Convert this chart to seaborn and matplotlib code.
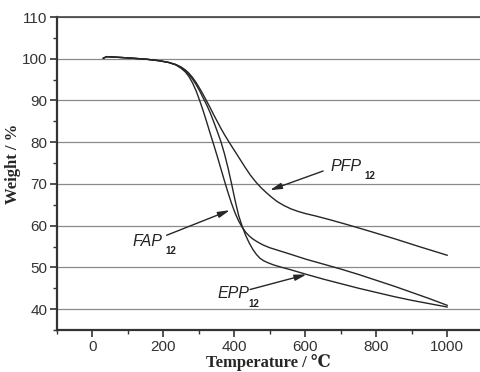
import pandas as pd
import matplotlib
matplotlib.use("Agg")
import matplotlib.pyplot as plt
from matplotlib.ticker import MultipleLocator
import seaborn as sns

# TGA curves (temperature in C, weight in %)
fap_t = [30, 40, 60, 100, 150, 190, 215, 235, 250, 262, 272, 282, 292, 302, 312, 322, 332, 342,
         352, 362, 372, 382, 392, 402, 412, 422, 432, 442, 452, 465, 480, 500, 530, 560, 600,
         650, 700, 750, 800, 850, 900, 950, 1000]
fap_w = [100.1, 100.5, 100.4, 100.2, 99.9, 99.5, 99.1, 98.5, 97.7, 96.8, 95.7, 94.2, 92.3, 90.0,
         87.5, 84.8, 82.0, 79.3, 76.5, 73.6, 70.7, 67.9, 65.3, 63.0, 61.1, 59.6, 58.4, 57.5, 56.8,
         56.1, 55.4, 54.7, 53.9, 53.1, 52.0, 50.8, 49.6, 48.3, 46.9, 45.5, 44.0, 42.5, 40.9]

epp_t = [30, 40, 60, 100, 150, 190, 215, 235, 250, 262, 272, 282, 292, 302, 312, 322, 332, 342,
         352, 362, 372, 382, 392, 402, 412, 422, 432, 442, 452, 462, 472, 482, 495, 510, 530, 560,
         600, 650, 700, 750, 800, 850, 900, 950, 1000]
epp_w = [100.1, 100.5, 100.4, 100.2, 99.9, 99.5, 99.1, 98.6, 97.9, 97.1, 96.2, 95.1, 93.8, 92.3,
         90.6, 88.9, 87.0, 84.8, 82.5, 80.1, 77.2, 73.8, 70.0, 66.0, 62.4, 59.8, 57.6, 55.8, 54.3,
         53.1, 52.2, 51.6, 51.1, 50.6, 50.1, 49.4, 48.4, 47.2, 46.1, 45.0, 44.0, 43.0, 42.1, 41.3,
         40.5]

pfp_t = [30, 40, 60, 100, 150, 190, 215, 235, 250, 262, 272, 282, 292, 302, 312, 322, 332, 342,
         352, 362, 372, 385, 400, 415, 430, 445, 460, 475, 490, 505, 520, 540, 560, 580, 600, 630,
         670, 720, 780, 850, 920, 1000]
pfp_w = [100.1, 100.5, 100.4, 100.2, 99.9, 99.5, 99.1, 98.6, 98.0, 97.3, 96.5, 95.5, 94.3, 92.9,
         91.4, 89.8, 88.2, 86.5, 84.9, 83.3, 81.8, 80.0, 78.0, 76.0, 74.0, 72.1, 70.5, 69.1, 67.9,
         66.8, 65.8, 64.8, 64.0, 63.4, 62.9, 62.3, 61.4, 60.2, 58.7, 56.9, 55.0, 52.9]

df = pd.concat([
    pd.DataFrame({"Temperature": fap_t, "Weight": fap_w, "Sample": "FAP12"}),
    pd.DataFrame({"Temperature": epp_t, "Weight": epp_w, "Sample": "EPP12"}),
    pd.DataFrame({"Temperature": pfp_t, "Weight": pfp_w, "Sample": "PFP12"}),
], ignore_index=True)

sns.set_style("ticks")
plt.rcParams["font.family"] = ["Liberation Sans", "DejaVu Sans"]

fig = plt.figure(figsize=(4.8, 3.72), dpi=100)
ax = fig.add_axes([0.11875, 0.1129, 0.88125, 0.8414])

sns.lineplot(data=df, x="Temperature", y="Weight", hue="Sample", palette=["#262626"] * 3,
             linewidth=1.0, legend=False, sort=False, estimator=None, ax=ax)

ax.set_xlim(-100, 1092)
ax.set_ylim(35, 110)
ax.xaxis.set_major_locator(MultipleLocator(200))
ax.xaxis.set_minor_locator(MultipleLocator(100))
ax.yaxis.set_major_locator(MultipleLocator(10))
ax.yaxis.set_minor_locator(MultipleLocator(5))
ax.grid(axis="y", which="major", color="#8a8a8a", linewidth=0.9)
ax.set_axisbelow(True)

ax.spines["right"].set_visible(False)
for s in ["left", "bottom"]:
    ax.spines[s].set_linewidth(1.6)
    ax.spines[s].set_color("#333333")
ax.spines["top"].set_linewidth(1.2)
ax.spines["top"].set_color("#444444")
ax.tick_params(which="major", length=5, width=1.2, color="#333333", labelsize=11,
               labelcolor="#333333", pad=2)
ax.tick_params(which="minor", length=3, width=1.0, color="#333333")

serif = ["Liberation Serif", "DejaVu Serif"]
ax.set_xlabel("Temperature / ℃", family=serif, fontsize=12, fontweight="bold", labelpad=0)
ax.set_ylabel("Weight / %", family=serif, fontsize=12, fontweight="bold")
ax.yaxis.set_label_coords(-0.085, 0.53)

arrow = dict(arrowstyle="-|>,head_length=0.7,head_width=0.18", color="#262626", lw=1.0,
             mutation_scale=10, shrinkA=0, shrinkB=0)

ax.annotate("", xy=(500, 68.5), xytext=(650, 73.1), arrowprops=arrow)
ax.text(670, 74.1, "PFP", style="italic", fontsize=11.5, va="center", ha="left", color="#222222")
ax.text(766, 71.8, "12", fontsize=7, fontweight="bold", va="center", ha="left", color="#222222")

ax.annotate("", xy=(387, 63.7), xytext=(209, 57.7), arrowprops=arrow)
ax.text(112, 56.3, "FAP", style="italic", fontsize=11.5, va="center", ha="left", color="#222222")
ax.text(204, 53.9, "12", fontsize=7, fontweight="bold", va="center", ha="left", color="#222222")

ax.annotate("", xy=(603, 48.3), xytext=(444, 44.7), arrowprops=arrow)
ax.text(352, 43.8, "EPP", style="italic", fontsize=11.5, va="center", ha="left", color="#222222")
ax.text(438, 41.3, "12", fontsize=7, fontweight="bold", va="center", ha="left", color="#222222")

fig.savefig("out.png", dpi=100)
